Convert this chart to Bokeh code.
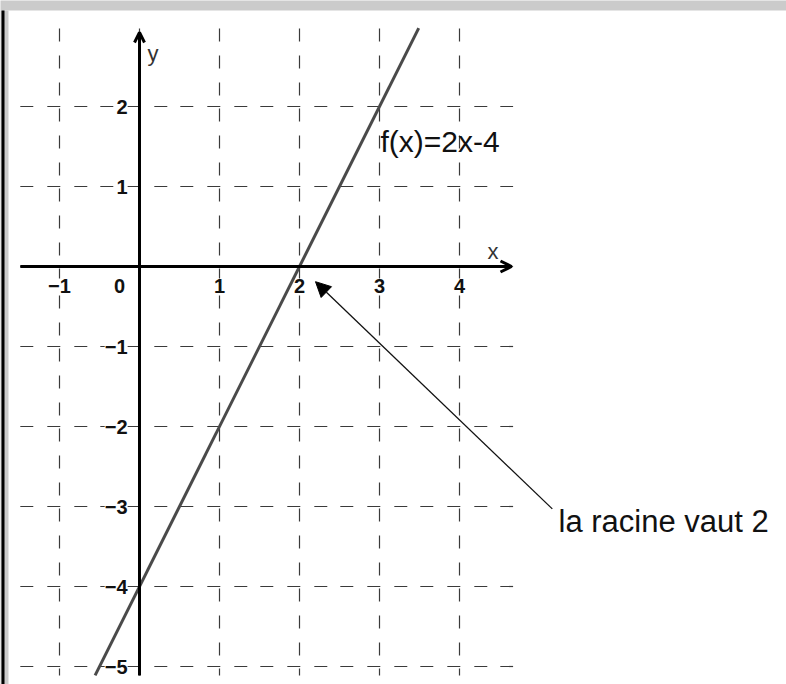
from bokeh.plotting import figure
from bokeh.models import Range1d, BoxAnnotation, Arrow, OpenHead, NormalHead
from bokeh.core.properties import value
from bokeh.embed import file_html
from bokeh.resources import INLINE

# Function f(x) = 2x - 4
slope = 2
intercept = -4
root = 2
line_x = [-0.555, 3.49]
line_y = [slope * x + intercept for x in line_x]

# Axis ticks and labels
x_ticks = [-1, 1, 2, 3, 4]
x_tick_labels = ["\u22121", "1", "2", "3", "4"]
y_ticks = [-5, -4, -3, -2, -1, 1, 2]
y_tick_labels = ["\u22125", "\u22124", "\u22123", "\u22122", "\u22121", "1", "2"]
grid_x = [-1, 0, 1, 2, 3, 4]
grid_y = [-5, -4, -3, -2, -1, 0, 1, 2]

# Annotation arrow: tail near the caption, head next to the root
note_tail = (5.16, -3.03)
note_head = (2.2, -0.19)

FONT = value("Liberation Sans")

p = figure(width=786, height=684,
           x_range=Range1d(-1.7375, 8.0875), y_range=Range1d(-5.225, 3.325),
           output_backend="svg", toolbar_location=None,
           x_axis_location=None, y_axis_location=None,
           min_border=0, outline_line_color=None,
           background_fill_color="white", border_fill_color="white")
p.xgrid.visible = False
p.ygrid.visible = False

# dashed grid (pattern repeats three times per unit)
dash = "13 14 13 14 13 13"
grid_top, grid_bottom = 2.975, -5.1125
grid_left, grid_right = -1.49, 4.67
p.segment(x0=grid_x, y0=[grid_top] * len(grid_x), x1=grid_x, y1=[grid_bottom] * len(grid_x),
          line_color="#3a3a3a", line_width=1.2, line_dash=dash)
p.segment(x0=[grid_left] * len(grid_y), y0=grid_y, x1=[grid_right] * len(grid_y), y1=grid_y,
          line_color="#3a3a3a", line_width=1.2, line_dash=dash)

# tick labels
tick_style = dict(text_font=FONT, text_font_style="bold", text_font_size="20px",
                  text_color="#111111", background_fill_color="white")
p.text(x=x_ticks, y=[0] * len(x_ticks), text=x_tick_labels,
       text_align="center", text_baseline="middle", y_offset=19, **tick_style)
p.text(x=[0], y=[0], text=["0"],
       text_align="center", text_baseline="middle", x_offset=-20, y_offset=19, **tick_style)
p.text(x=[0] * len(y_ticks), y=y_ticks, text=y_tick_labels,
       text_align="right", text_baseline="middle", x_offset=-12, **tick_style)

# axes with open arrow heads
p.add_layout(Arrow(x_start=grid_left, y_start=0, x_end=4.65, y_end=0,
                   line_color="black", line_width=3,
                   end=OpenHead(size=11, line_width=3, line_color="black")))
p.add_layout(Arrow(x_start=0, y_start=grid_bottom, x_end=0, y_end=2.925,
                   line_color="black", line_width=3,
                   end=OpenHead(size=10, line_width=3, line_color="black")))
p.text(x=[0.1], y=[2.66], text=["y"], text_font=FONT, text_font_size="22px",
       text_color="#333333", text_baseline="alphabetic")
p.text(x=[4.35], y=[0.19], text=["x"], text_font=FONT, text_font_size="22px",
       text_color="#333333", text_baseline="alphabetic")

# graph of f
p.line(line_x, line_y, line_color="#4a4a4a", line_width=3)
p.text(x=[3.0125], y=[1.5625], text=["f(x)=2x-4"], text_font=FONT, text_font_size="30px",
       text_color="#111111", text_baseline="alphabetic")

# root annotation
p.add_layout(Arrow(x_start=note_tail[0], y_start=note_tail[1], x_end=note_head[0], y_end=note_head[1],
                   line_color="#111111", line_width=1.3,
                   end=NormalHead(size=15, fill_color="black", line_color="black", line_width=1)))
p.text(x=[5.2375], y=[-3.19], text=["la racine vaut %d" % root], text_font=FONT,
       text_font_size="31px", text_color="#111111", text_baseline="alphabetic")

# window frame: grey title strip on top, grey/black border on the left
p.add_layout(BoxAnnotation(left=-3, right=10, bottom=3.2, top=5,
                           fill_color="#cbcbcb", fill_alpha=1, line_color=None))
p.add_layout(BoxAnnotation(left=-3, right=-1.6375, bottom=-7, top=3.2,
                           fill_color="#cbcbcb", fill_alpha=1, line_color=None))
p.add_layout(BoxAnnotation(left=-1.725, right=-1.6875, bottom=-7, top=3.2,
                           fill_color="black", fill_alpha=1, line_color=None))

open("out.html", "w").write(file_html(p, INLINE))
